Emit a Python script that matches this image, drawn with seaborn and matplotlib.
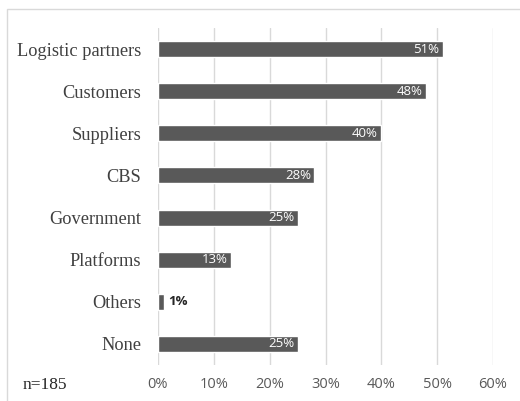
import matplotlib
matplotlib.use("Agg")
import matplotlib.pyplot as plt
import seaborn as sns
import pandas as pd
from matplotlib.patches import Rectangle

categories = ["Logistic partners", "Customers", "Suppliers", "CBS",
              "Government", "Platforms", "Others", "None"]
shares = [0.51, 0.48, 0.40, 0.28, 0.25, 0.13, 0.01, 0.25]
tick_values = [0.0, 0.1, 0.2, 0.3, 0.4, 0.5, 0.6]
tick_labels = ["0%", "10%", "20%", "30%", "40%", "50%", "60%"]
sample_note = "n=185"

df = pd.DataFrame({"category": categories, "share": shares})

sns.set_style("white")
plt.rcParams["font.family"] = ["Liberation Serif", "DejaVu Serif"]

fig = plt.figure(figsize=(5.2, 4.01), dpi=100)
ax = fig.add_axes([158 / 520, 1 - 365 / 401, (493 - 158) / 520, (365 - 28) / 401])

bar_color = "#595959"
sns.barplot(data=df, x="share", y="category", orient="h", color=bar_color,
            width=0.38, saturation=1, ax=ax)

ax.set_xlim(0, 0.6)
ax.set_ylim(len(categories) - 0.5, -0.5)
ax.set_xticks(tick_values)
ax.set_xticklabels(tick_labels, family=["Open Sans", "DejaVu Sans"],
                   fontsize=10.5, color="#595959")
ax.set_yticks(range(len(categories)))
ax.set_yticklabels(categories, fontsize=13.2, color="#404040")
ax.tick_params(axis="both", length=0)
ax.tick_params(axis="y", pad=12)
ax.tick_params(axis="x", pad=9)
ax.set_xlabel("")
ax.set_ylabel("")
for s in ax.spines.values():
    s.set_visible(False)
ax.grid(axis="x", color="#d9d9d9", linewidth=1)
ax.set_axisbelow(True)

# Value labels: inside the bar end, or just outside for very short bars
for i, v in enumerate(shares):
    txt = f"{round(v * 100):d}%"
    if v < 0.05:
        ax.text(v + 0.008, i, txt, ha="left", va="center", fontsize=9.5,
                color="#262626", fontweight="bold",
                family=["Open Sans", "DejaVu Sans"])
    else:
        ax.text(v - 0.006, i, txt, ha="right", va="center", fontsize=9.5,
                color="white", family=["Open Sans", "DejaVu Sans"])

fig.text(23 / 520, 1 - 385 / 401, sample_note, fontsize=12.5, color="#262626",
         ha="left", va="center")

# Chart frame
fig.patches.append(Rectangle((7 / 520, -0.05), 1.1, 1 - 9 / 401 + 0.05,
                             transform=fig.transFigure, fill=False,
                             edgecolor="#d9d9d9", linewidth=1))

fig.savefig("out.png", dpi=100, facecolor="white")
